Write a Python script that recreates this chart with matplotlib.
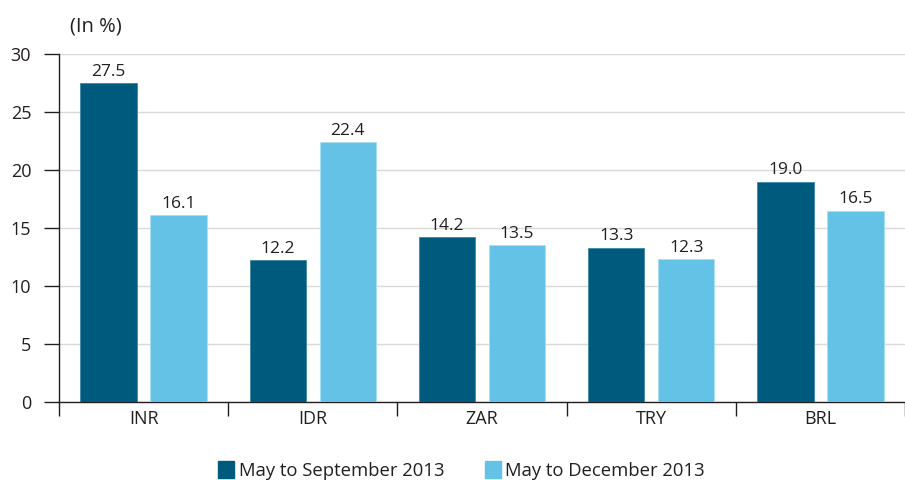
import numpy as np
import matplotlib.pyplot as plt
from matplotlib.patches import Patch

# data
currencies = ['INR', 'IDR', 'ZAR', 'TRY', 'BRL']
may_sep = [27.5, 12.2, 14.2, 13.3, 19.0]
may_dec = [16.1, 22.4, 13.5, 12.3, 16.5]

dark = '#005a7e'
light = '#64c2e6'
txt = '#231f20'

plt.rcParams['font.family'] = ['Open Sans', 'DejaVu Sans']

fig = plt.figure(figsize=(9.05, 4.8), dpi=100)
ax = fig.add_axes([0.0652, 0.1625, 0.9348, 0.725])

x = np.arange(len(currencies))
w = 0.333
off = 0.207
b1 = ax.bar(x - off, may_sep, w, color=dark, edgecolor='#3f88a6', linewidth=0.6, zorder=3)
b2 = ax.bar(x + off, may_dec, w, color=light, edgecolor='#a9def2', linewidth=0.6, zorder=3)

for bars, vals in ((b1, may_sep), (b2, may_dec)):
    for r, v in zip(bars, vals):
        ax.text(r.get_x() + r.get_width() / 2, v + 0.3, '%.1f' % v,
                ha='center', va='bottom', fontsize=12.5, color=txt)

ax.set_ylim(0, 30)
ax.set_xlim(-0.5, 4.46)
ax.set_yticks(range(0, 31, 5))
ax.tick_params(axis='y', length=11, width=1, color=txt, labelsize=13,
               labelcolor=txt, pad=9)
ax.yaxis.grid(True, color='#d9d9d9', linewidth=1, zorder=0)
ax.set_axisbelow(True)

# group boundary ticks, labels in the middle
ax.set_xticks(np.arange(-0.5, 5, 1))
ax.set_xticklabels([])
ax.set_xticks(x, minor=True)
ax.set_xticklabels(currencies, minor=True, fontsize=13, color=txt)
ax.tick_params(axis='x', which='major', length=10, width=1, color=txt)
ax.tick_params(axis='x', which='minor', length=0, pad=6)

for s in ['top', 'right']:
    ax.spines[s].set_visible(False)
for s in ['left', 'bottom']:
    ax.spines[s].set_color(txt)
    ax.spines[s].set_linewidth(1)

fig.text(0.0773, 0.945, '(In %)', fontsize=14.5, color=txt, ha='left', va='center')

handles = [Patch(color=dark), Patch(color=light)]
fig.legend(handles, ['May to September 2013', 'May to December 2013'],
           loc='center', bbox_to_anchor=(0.51, 0.02), ncol=2, frameon=False,
           fontsize=13.3, handlelength=0.85, handleheight=1.0, handletextpad=0.25,
           columnspacing=2.2, labelcolor=txt)

fig.savefig('out.png', dpi=100)
